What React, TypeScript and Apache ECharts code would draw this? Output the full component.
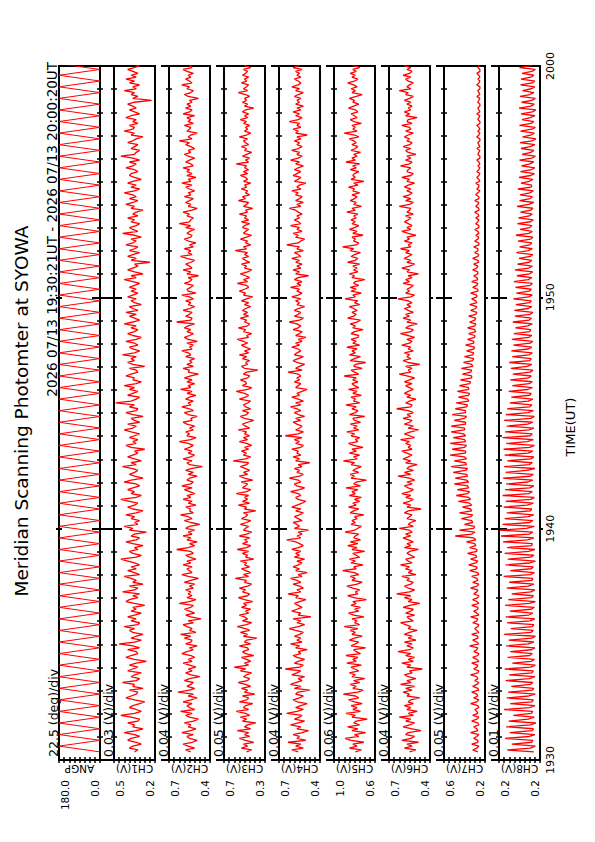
import React, { useEffect, useRef } from "react";
import * as echarts from "echarts";

// ---- chart texts ----
const TITLE = "Meridian Scanning Photomter at SYOWA";
const SUBTITLE = "2026 07/13 19:30:21UT - 2026 07/13 20:00:20UT";
const TIME_NAME = "TIME(UT)";
const CHANNEL_NAMES = ["ANGP", "CH1(V)", "CH2(V)", "CH3(V)", "CH4(V)", "CH5(V)", "CH6(V)", "CH7(V)", "CH8(V)"];
const DIV_LABELS = ["22.5 (deg)/div", "0.03 (V)/div", "0.04 (V)/div", "0.05 (V)/div", "0.04 (V)/div", "0.06 (V)/div", "0.04 (V)/div", "0.05 (V)/div", "0.01 (V)/div"];
const AXIS_MIN = [0, 0.24, 0.4, 0.3, 0.4, 0.6, 0.4, 0.2, 0.16];
const AXIS_MAX = [180, 0.48, 0.72, 0.7, 0.72, 1.08, 0.72, 0.6, 0.24];
const MAX_LABELS = ["180.0", "0.5", "0.7", "0.7", "0.7", "1.0", "0.7", "0.6", "0.2"];
const MIN_LABELS = ["0.0", "0.2", "0.4", "0.3", "0.4", "0.6", "0.4", "0.2", "0.2"];
const TIME_TICKS = [0, 10, 20, 30]; // minutes after 19:30
const TIME_LABELS = ["1930", "1940", "1950", "2000"];

// ---- sampling ----
const START_SEC = 21; // 19:30:21
const SAMPLE_SEC = 5; // channel sampling
const ANGP_STEP_SEC = 15; // half scan

// ---- data ----
const ANGP = [
  0, 180, 0, 180, 0, 180, 0, 180, 0, 180, 0, 180, 0, 180, 0, 180, 0, 180, 0, 180,
  0, 180, 0, 180, 0, 180, 0, 180, 0, 180, 0, 180, 0, 180, 0, 180, 0, 180, 0, 180,
  0, 180, 0, 180, 0, 180, 0, 180, 0, 180, 0, 180, 0, 180, 0, 180, 0, 180, 0, 180,
  0, 180, 0, 180, 0, 180, 0, 180, 0, 180, 0, 180, 0, 180, 0, 180, 0, 180, 0, 180,
  0, 180, 0, 180, 0, 180, 0, 180, 0, 180, 0, 180, 0, 180, 0, 180, 0, 180, 0, 180,
  0, 180, 0, 180, 0, 180, 0, 180, 0, 180, 0, 180, 0, 180, 0, 180, 0, 180, 0, 180, 0,
];

const CH1 = [
  0.36,0.34,0.39,0.37,0.32,0.35,0.40,0.38,0.33,0.36,0.42,0.35,
  0.31,0.37,0.36,0.40,0.34,0.33,0.38,0.44,0.36,0.32,0.35,0.39,
  0.37,0.33,0.30,0.36,0.41,0.38,0.35,0.34,0.39,0.31,0.37,0.36,
  0.43,0.35,0.33,0.38,0.36,0.32,0.40,0.37,0.34,0.39,0.35,0.29,
  0.36,0.41,0.38,0.34,0.35,0.40,0.33,0.37,0.45,0.36,0.32,0.38,
  0.35,0.31,0.37,0.39,0.36,0.42,0.34,0.33,0.38,0.35,0.40,0.36,
  0.32,0.38,0.35,0.37,0.30,0.36,0.41,0.39,0.34,0.37,0.33,0.43,
  0.36,0.34,0.39,0.31,0.37,0.35,0.38,0.42,0.33,0.36,0.40,0.35,
  0.38,0.33,0.36,0.40,0.44,0.35,0.32,0.37,0.39,0.34,0.36,0.31,
  0.37,0.41,0.35,0.33,0.38,0.36,0.29,0.39,0.37,0.42,0.34,0.36,
  0.33,0.38,0.36,0.41,0.35,0.31,0.37,0.40,0.36,0.34,0.39,0.44,
  0.35,0.32,0.38,0.36,0.40,0.37,0.33,0.35,0.42,0.38,0.31,0.36,
  0.39,0.36,0.34,0.37,0.43,0.35,0.38,0.32,0.36,0.40,0.37,0.34,
  0.36,0.30,0.38,0.41,0.35,0.37,0.34,0.39,0.36,0.33,0.38,0.42,
  0.37,0.35,0.40,0.33,0.36,0.38,0.31,0.37,0.41,0.35,0.34,0.39,
  0.36,0.47,0.38,0.35,0.33,0.40,0.37,0.34,0.39,0.36,0.42,0.35,
  0.32,0.37,0.36,0.41,0.38,0.34,0.35,0.39,0.30,0.37,0.40,0.36,
  0.38,0.35,0.43,0.36,0.33,0.37,0.39,0.34,0.36,0.41,0.35,0.32,
  0.37,0.40,0.36,0.34,0.38,0.35,0.42,0.37,0.33,0.36,0.39,0.35,
  0.41,0.34,0.37,0.39,0.32,0.36,0.38,0.35,0.40,0.37,0.34,0.38,
  0.35,0.39,0.36,0.33,0.37,0.42,0.35,0.38,0.31,0.36,0.40,0.37,
  0.34,0.36,0.27,0.38,0.35,0.40,0.37,0.33,0.39,0.36,0.34,0.41,
  0.37,0.35,0.38,0.32,0.36,0.43,0.34,0.37,0.39,0.35,0.33,0.38,
  0.36,0.40,0.34,0.37,0.35,0.31,0.38,0.36,0.41,0.37,0.34,0.39,
  0.35,0.37,0.42,0.36,0.33,0.38,0.35,0.40,0.37,0.32,0.36,0.39,
  0.38,0.34,0.36,0.41,0.37,0.35,0.39,0.33,0.37,0.44,0.36,0.35,
  0.33,0.38,0.36,0.34,0.40,0.37,0.35,0.31,0.38,0.36,0.42,0.37,
  0.36,0.39,0.34,0.37,0.35,0.41,0.38,0.33,0.36,0.39,0.35,0.37,
  0.40,0.36,0.26,0.37,0.34,0.38,0.36,0.42,0.35,0.37,0.33,0.39,
  0.36,0.41,0.35,0.38,0.34,0.37,0.40,0.36,0.33,0.38,0.35,0.39,
  0.37,
];

const CH2 = [
  0.55,0.59,0.52,0.57,0.61,0.54,0.50,0.56,0.58,0.53,0.62,0.55,
  0.51,0.57,0.55,0.60,0.53,0.49,0.56,0.59,0.54,0.63,0.52,0.56,
  0.58,0.54,0.61,0.55,0.50,0.57,0.53,0.65,0.56,0.52,0.58,0.55,
  0.53,0.60,0.56,0.48,0.55,0.59,0.54,0.57,0.51,0.56,0.61,0.54,
  0.57,0.52,0.55,0.62,0.58,0.53,0.56,0.50,0.59,0.55,0.54,0.60,
  0.55,0.63,0.51,0.56,0.54,0.58,0.61,0.53,0.57,0.47,0.55,0.59,
  0.52,0.56,0.60,0.55,0.53,0.64,0.56,0.51,0.58,0.54,0.57,0.55,
  0.59,0.53,0.56,0.52,0.60,0.55,0.49,0.57,0.62,0.54,0.56,0.58,
  0.54,0.61,0.55,0.58,0.51,0.56,0.59,0.53,0.55,0.66,0.57,0.52,
  0.56,0.50,0.58,0.55,0.61,0.54,0.57,0.52,0.59,0.56,0.48,0.55,
  0.60,0.54,0.57,0.63,0.53,0.56,0.55,0.59,0.51,0.57,0.54,0.61,
  0.55,0.58,0.52,0.56,0.60,0.54,0.62,0.55,0.53,0.58,0.56,0.50,
  0.57,0.53,0.59,0.55,0.46,0.56,0.58,0.54,0.61,0.55,0.52,0.57,
  0.54,0.60,0.56,0.53,0.57,0.64,0.55,0.51,0.58,0.56,0.59,0.53,
  0.56,0.52,0.58,0.61,0.54,0.55,0.50,0.57,0.60,0.53,0.56,0.62,
  0.55,0.57,0.53,0.59,0.56,0.51,0.58,0.54,0.63,0.55,0.57,0.52,
  0.58,0.54,0.60,0.55,0.49,0.57,0.56,0.61,0.53,0.58,0.54,0.56,
  0.52,0.59,0.55,0.57,0.62,0.54,0.56,0.53,0.58,0.50,0.57,0.60,
  0.56,0.53,0.58,0.55,0.60,0.57,0.52,0.66,0.55,0.54,0.59,0.56,
  0.54,0.61,0.56,0.52,0.57,0.55,0.59,0.53,0.56,0.62,0.51,0.57,
  0.58,0.55,0.53,0.60,0.56,0.54,0.57,0.49,0.58,0.55,0.61,0.54,
  0.56,0.59,0.55,0.52,0.58,0.63,0.54,0.57,0.55,0.60,0.53,0.56,
  0.51,0.57,0.60,0.55,0.54,0.58,0.56,0.52,0.59,0.55,0.64,0.56,
  0.55,0.53,0.58,0.56,0.61,0.54,0.50,0.57,0.55,0.59,0.56,0.53,
  0.60,0.55,0.57,0.52,0.56,0.59,0.54,0.62,0.55,0.57,0.51,0.58,
  0.54,0.58,0.56,0.61,0.53,0.55,0.59,0.56,0.52,0.57,0.60,0.55,
  0.57,0.52,0.55,0.59,0.56,0.64,0.54,0.57,0.55,0.50,0.58,0.56,
  0.55,0.60,0.53,0.57,0.55,0.58,0.52,0.61,0.56,0.54,0.59,0.55,
  0.58,0.54,0.56,0.49,0.57,0.60,0.55,0.53,0.58,0.56,0.62,0.54,
  0.56,0.59,0.55,0.57,0.53,0.58,0.61,0.54,0.56,0.52,0.57,0.55,
  0.57,
];

const CH3 = [
  0.48,0.43,0.53,0.47,0.51,0.41,0.49,0.55,0.45,0.50,0.46,0.57,
  0.44,0.50,0.47,0.39,0.52,0.48,0.54,0.45,0.49,0.58,0.46,0.51,
  0.49,0.42,0.55,0.48,0.46,0.52,0.40,0.50,0.47,0.53,0.44,0.49,
  0.56,0.47,0.45,0.51,0.48,0.43,0.54,0.49,0.60,0.46,0.50,0.44,
  0.48,0.53,0.41,0.49,0.52,0.46,0.47,0.55,0.44,0.50,0.48,0.38,
  0.51,0.47,0.54,0.45,0.49,0.57,0.48,0.43,0.52,0.47,0.50,0.55,
  0.46,0.49,0.44,0.53,0.48,0.51,0.42,0.50,0.56,0.47,0.45,0.52,
  0.49,0.55,0.47,0.43,0.50,0.48,0.59,0.46,0.51,0.44,0.49,0.53,
  0.45,0.50,0.48,0.54,0.41,0.49,0.47,0.52,0.46,0.57,0.48,0.44,
  0.52,0.47,0.50,0.45,0.55,0.48,0.43,0.51,0.49,0.46,0.54,0.48,
  0.44,0.53,0.49,0.47,0.51,0.39,0.50,0.48,0.56,0.45,0.52,0.47,
  0.50,0.46,0.58,0.48,0.44,0.52,0.49,0.47,0.53,0.42,0.50,0.55,
  0.47,0.51,0.45,0.49,0.54,0.48,0.46,0.61,0.49,0.44,0.51,0.48,
  0.53,0.46,0.50,0.43,0.48,0.55,0.47,0.51,0.45,0.50,0.48,0.56,
  0.45,0.49,0.52,0.47,0.41,0.50,0.54,0.48,0.46,0.52,0.44,0.49,
  0.51,0.47,0.44,0.55,0.49,0.46,0.50,0.58,0.47,0.43,0.52,0.48,
  0.49,0.54,0.47,0.45,0.51,0.48,0.37,0.50,0.53,0.47,0.49,0.45,
  0.52,0.48,0.55,0.46,0.50,0.44,0.49,0.53,0.47,0.51,0.57,0.46,
  0.48,0.43,0.51,0.49,0.56,0.47,0.45,0.50,0.48,0.54,0.46,0.51,
  0.47,0.52,0.49,0.44,0.50,0.46,0.53,0.48,0.42,0.51,0.49,0.55,
  0.50,0.46,0.48,0.57,0.47,0.51,0.45,0.49,0.54,0.47,0.43,0.50,
  0.48,0.53,0.45,0.49,0.52,0.46,0.50,0.47,0.59,0.48,0.51,0.44,
  0.49,0.47,0.54,0.48,0.43,0.51,0.49,0.46,0.52,0.50,0.45,0.53,
  0.46,0.50,0.48,0.55,0.47,0.49,0.42,0.51,0.48,0.46,0.56,0.49,
  0.52,0.45,0.49,0.47,0.53,0.48,0.50,0.44,0.51,0.47,0.49,0.54,
  0.47,0.51,0.46,0.50,0.48,0.58,0.46,0.49,0.45,0.52,0.48,0.43,
  0.50,0.48,0.53,0.46,0.49,0.51,0.47,0.55,0.48,0.44,0.50,0.47,
  0.49,0.45,0.51,0.48,0.54,0.47,0.50,0.46,0.52,0.49,0.41,0.50,
  0.47,0.52,0.48,0.50,0.45,0.49,0.56,0.47,0.51,0.48,0.46,0.53,
  0.48,0.50,0.46,0.52,0.49,0.47,0.51,0.44,0.50,0.48,0.53,0.47,
  0.49,
];

const CH4 = [
  0.57,0.62,0.53,0.59,0.55,0.65,0.51,0.58,0.56,0.61,0.54,0.49,
  0.58,0.55,0.63,0.57,0.52,0.60,0.56,0.54,0.66,0.58,0.53,0.59,
  0.55,0.50,0.58,0.61,0.56,0.53,0.59,0.57,0.48,0.60,0.55,0.63,
  0.59,0.54,0.57,0.52,0.62,0.58,0.55,0.67,0.56,0.53,0.60,0.57,
  0.52,0.58,0.61,0.55,0.57,0.50,0.59,0.56,0.63,0.54,0.58,0.55,
  0.60,0.56,0.53,0.59,0.64,0.57,0.52,0.58,0.55,0.61,0.47,0.57,
  0.55,0.62,0.58,0.54,0.57,0.60,0.56,0.51,0.59,0.57,0.65,0.55,
  0.58,0.53,0.56,0.61,0.55,0.58,0.63,0.54,0.57,0.50,0.59,0.56,
  0.61,0.57,0.54,0.58,0.52,0.60,0.56,0.59,0.55,0.62,0.57,0.53,
  0.56,0.59,0.66,0.55,0.58,0.54,0.57,0.49,0.60,0.56,0.58,0.61,
  0.54,0.57,0.60,0.56,0.53,0.59,0.55,0.62,0.58,0.54,0.51,0.57,
  0.59,0.55,0.57,0.63,0.56,0.52,0.58,0.60,0.55,0.57,0.64,0.56,
  0.53,0.58,0.56,0.60,0.54,0.57,0.48,0.59,0.56,0.61,0.55,0.58,
  0.57,0.62,0.55,0.53,0.59,0.56,0.60,0.54,0.67,0.57,0.53,0.59,
  0.56,0.54,0.58,0.61,0.55,0.59,0.52,0.57,0.60,0.55,0.58,0.63,
  0.55,0.59,0.53,0.57,0.62,0.56,0.58,0.54,0.50,0.59,0.57,0.55,
  0.60,0.56,0.58,0.55,0.57,0.65,0.54,0.59,0.56,0.52,0.58,0.61,
  0.57,0.53,0.60,0.58,0.55,0.57,0.62,0.56,0.59,0.54,0.57,0.51,
  0.59,0.56,0.54,0.61,0.57,0.55,0.58,0.64,0.56,0.53,0.60,0.57,
  0.55,0.60,0.57,0.52,0.58,0.56,0.59,0.55,0.62,0.57,0.54,0.58,
  0.56,0.63,0.55,0.58,0.54,0.60,0.57,0.49,0.59,0.56,0.61,0.55,
  0.58,0.54,0.59,0.56,0.62,0.55,0.57,0.60,0.53,0.58,0.56,0.66,
  0.57,0.55,0.52,0.59,0.57,0.61,0.54,0.58,0.56,0.63,0.55,0.57,
  0.60,0.56,0.58,0.54,0.57,0.59,0.64,0.55,0.58,0.53,0.59,0.56,
  0.54,0.59,0.57,0.62,0.55,0.58,0.56,0.51,0.60,0.57,0.55,0.61,
  0.58,0.55,0.60,0.57,0.53,0.59,0.56,0.63,0.57,0.54,0.58,0.56,
  0.62,0.57,0.54,0.58,0.56,0.60,0.55,0.58,0.50,0.59,0.57,0.61,
  0.55,0.58,0.56,0.64,0.57,0.54,0.59,0.56,0.61,0.55,0.58,0.53,
  0.59,0.56,0.58,0.55,0.60,0.57,0.53,0.59,0.56,0.62,0.57,0.55,
  0.57,0.60,0.55,0.58,0.56,0.59,0.54,0.61,0.57,0.55,0.58,0.56,
  0.58,
];

const CH5 = [
  0.83,0.76,0.90,0.81,0.86,0.73,0.88,0.95,0.79,0.84,0.71,0.87,
  0.80,0.92,0.78,0.85,0.82,0.69,0.87,0.83,0.94,0.77,0.86,0.81,
  0.88,0.75,0.84,0.91,0.79,0.83,0.97,0.80,0.74,0.86,0.82,0.89,
  0.78,0.85,0.72,0.87,0.83,0.90,0.79,0.84,0.88,0.76,0.93,0.82,
  0.86,0.80,0.94,0.77,0.82,0.85,0.71,0.88,0.83,0.79,0.90,0.84,
  0.75,0.87,0.83,0.89,0.80,0.96,0.78,0.84,0.81,0.87,0.73,0.85,
  0.91,0.79,0.84,0.77,0.88,0.82,0.86,0.70,0.85,0.92,0.80,0.83,
  0.78,0.86,0.93,0.81,0.75,0.87,0.83,0.89,0.79,0.84,0.98,0.82,
  0.85,0.74,0.88,0.83,0.90,0.78,0.82,0.86,0.72,0.87,0.81,0.92,
  0.80,0.89,0.77,0.85,0.83,0.79,0.95,0.84,0.80,0.76,0.88,0.83,
  0.87,0.81,0.84,0.73,0.89,0.85,0.79,0.91,0.82,0.86,0.78,0.84,
  0.76,0.90,0.83,0.87,0.80,0.94,0.77,0.85,0.82,0.70,0.88,0.84,
  0.89,0.79,0.86,0.82,0.76,0.88,0.84,0.97,0.81,0.85,0.78,0.90,
  0.82,0.87,0.74,0.85,0.91,0.80,0.83,0.78,0.88,0.84,0.93,0.79,
  0.85,0.81,0.89,0.77,0.84,0.86,0.72,0.90,0.83,0.80,0.87,0.82,
  0.94,0.78,0.85,0.83,0.88,0.76,0.86,0.81,0.91,0.79,0.84,0.87,
  0.80,0.86,0.82,0.96,0.79,0.84,0.88,0.75,0.85,0.83,0.71,0.89,
  0.84,0.77,0.90,0.83,0.87,0.81,0.93,0.78,0.86,0.82,0.88,0.80,
  0.79,0.88,0.84,0.74,0.86,0.83,0.89,0.81,0.77,0.92,0.85,0.82,
  0.87,0.81,0.85,0.90,0.78,0.84,0.80,0.95,0.83,0.86,0.76,0.88,
  0.82,0.89,0.79,0.85,0.83,0.72,0.87,0.84,0.90,0.80,0.85,0.81,
  0.86,0.78,0.92,0.83,0.80,0.88,0.84,0.77,0.89,0.85,0.98,0.82,
  0.79,0.85,0.83,0.87,0.74,0.86,0.81,0.90,0.84,0.79,0.87,0.83,
  0.88,0.82,0.85,0.80,0.93,0.83,0.87,0.76,0.85,0.82,0.89,0.84,
  0.81,0.87,0.78,0.86,0.84,0.91,0.80,0.85,0.73,0.88,0.83,0.86,
  0.84,0.79,0.89,0.82,0.86,0.78,0.94,0.83,0.87,0.81,0.85,0.77,
  0.88,0.83,0.80,0.87,0.82,0.85,0.90,0.79,0.84,0.96,0.81,0.86,
  0.83,0.87,0.76,0.85,0.89,0.81,0.84,0.88,0.80,0.83,0.91,0.85,
  0.79,0.86,0.84,0.90,0.82,0.75,0.87,0.83,0.88,0.81,0.85,0.92,
  0.84,0.80,0.87,0.83,0.89,0.82,0.86,0.78,0.85,0.88,0.81,0.84,
  0.83,
];

const CH6 = [
  0.56,0.51,0.60,0.54,0.58,0.49,0.62,0.55,0.52,0.59,0.57,0.47,
  0.54,0.61,0.56,0.52,0.59,0.55,0.64,0.53,0.57,0.50,0.58,0.55,
  0.60,0.53,0.57,0.55,0.48,0.58,0.56,0.61,0.54,0.59,0.52,0.63,
  0.55,0.58,0.51,0.57,0.60,0.54,0.56,0.46,0.58,0.55,0.62,0.53,
  0.57,0.52,0.59,0.55,0.65,0.56,0.53,0.58,0.54,0.60,0.51,0.57,
  0.54,0.60,0.56,0.50,0.57,0.55,0.59,0.63,0.53,0.56,0.58,0.52,
  0.59,0.55,0.53,0.61,0.56,0.48,0.57,0.54,0.60,0.55,0.66,0.56,
  0.52,0.57,0.60,0.55,0.53,0.58,0.56,0.62,0.51,0.57,0.54,0.59,
  0.56,0.63,0.54,0.57,0.59,0.52,0.55,0.58,0.56,0.49,0.60,0.55,
  0.58,0.53,0.57,0.61,0.55,0.59,0.54,0.56,0.64,0.53,0.57,0.55,
  0.51,0.58,0.56,0.54,0.60,0.57,0.47,0.58,0.55,0.61,0.56,0.53,
  0.59,0.55,0.62,0.56,0.53,0.57,0.60,0.54,0.58,0.52,0.56,0.65,
  0.55,0.60,0.53,0.58,0.56,0.50,0.59,0.55,0.61,0.57,0.54,0.58,
  0.62,0.54,0.57,0.55,0.59,0.56,0.63,0.52,0.56,0.60,0.55,0.49,
  0.57,0.53,0.60,0.56,0.54,0.61,0.55,0.58,0.53,0.57,0.66,0.55,
  0.54,0.59,0.56,0.51,0.58,0.55,0.60,0.57,0.53,0.56,0.59,0.54,
  0.60,0.56,0.52,0.58,0.64,0.55,0.57,0.54,0.59,0.48,0.57,0.61,
  0.55,0.58,0.56,0.60,0.53,0.57,0.55,0.62,0.56,0.54,0.58,0.52,
  0.57,0.63,0.55,0.53,0.59,0.56,0.50,0.58,0.55,0.61,0.56,0.59,
  0.53,0.57,0.60,0.55,0.58,0.54,0.57,0.65,0.55,0.52,0.59,0.56,
  0.58,0.55,0.53,0.61,0.56,0.59,0.54,0.57,0.49,0.58,0.56,0.62,
  0.56,0.52,0.58,0.55,0.60,0.57,0.54,0.59,0.56,0.63,0.55,0.57,
  0.54,0.60,0.56,0.58,0.51,0.57,0.62,0.55,0.58,0.54,0.57,0.60,
  0.57,0.55,0.59,0.53,0.58,0.56,0.55,0.64,0.56,0.53,0.59,0.55,
  0.61,0.56,0.54,0.58,0.55,0.60,0.57,0.52,0.58,0.56,0.62,0.55,
  0.53,0.58,0.57,0.55,0.63,0.56,0.54,0.59,0.55,0.58,0.51,0.57,
  0.59,0.55,0.61,0.56,0.54,0.58,0.56,0.60,0.57,0.53,0.59,0.55,
  0.56,0.62,0.54,0.58,0.57,0.50,0.59,0.56,0.60,0.55,0.57,0.54,
  0.58,0.55,0.60,0.56,0.53,0.59,0.57,0.64,0.55,0.58,0.56,0.53,
  0.57,0.59,0.55,0.61,0.56,0.54,0.58,0.55,0.60,0.57,0.53,0.58,
  0.56,
];

const CH7 = [
  0.27,0.32,0.28,0.26,0.33,0.27,0.27,0.31,0.28,0.26,0.34,0.27,
  0.28,0.31,0.26,0.27,0.33,0.28,0.26,0.32,0.27,0.28,0.30,0.26,
  0.27,0.34,0.28,0.26,0.31,0.27,0.28,0.33,0.26,0.27,0.32,0.28,
  0.26,0.30,0.27,0.28,0.34,0.27,0.26,0.31,0.28,0.27,0.33,0.26,
  0.28,0.32,0.27,0.26,0.31,0.28,0.27,0.35,0.26,0.28,0.32,0.27,
  0.27,0.33,0.26,0.28,0.30,0.27,0.26,0.32,0.28,0.27,0.34,0.26,
  0.28,0.31,0.27,0.27,0.33,0.26,0.28,0.32,0.27,0.26,0.31,0.28,
  0.27,0.34,0.28,0.26,0.32,0.27,0.28,0.33,0.26,0.27,0.35,0.28,
  0.28,0.36,0.29,0.27,0.34,0.28,0.29,0.37,0.28,0.28,0.35,0.29,
  0.30,0.38,0.29,0.31,0.49,0.33,0.30,0.45,0.31,0.30,0.40,0.32,
  0.33,0.43,0.34,0.32,0.45,0.33,0.34,0.42,0.33,0.35,0.46,0.34,
  0.36,0.48,0.37,0.35,0.47,0.36,0.37,0.50,0.36,0.38,0.49,0.37,
  0.38,0.51,0.39,0.37,0.53,0.38,0.39,0.50,0.38,0.40,0.54,0.39,
  0.39,0.52,0.40,0.38,0.54,0.39,0.40,0.51,0.39,0.41,0.53,0.40,
  0.40,0.53,0.39,0.39,0.50,0.40,0.38,0.52,0.39,0.39,0.49,0.38,
  0.37,0.48,0.36,0.37,0.46,0.36,0.35,0.47,0.36,0.36,0.45,0.35,
  0.34,0.44,0.33,0.33,0.42,0.34,0.33,0.43,0.32,0.33,0.41,0.32,
  0.31,0.40,0.32,0.31,0.38,0.31,0.30,0.39,0.31,0.31,0.37,0.30,
  0.30,0.36,0.29,0.30,0.37,0.30,0.29,0.35,0.30,0.29,0.36,0.29,
  0.28,0.34,0.29,0.28,0.35,0.28,0.29,0.33,0.28,0.28,0.34,0.27,
  0.27,0.32,0.28,0.27,0.33,0.27,0.28,0.31,0.27,0.27,0.32,0.28,
  0.27,0.31,0.26,0.27,0.32,0.27,0.26,0.30,0.27,0.27,0.31,0.26,
  0.26,0.30,0.27,0.26,0.29,0.26,0.27,0.30,0.26,0.26,0.29,0.27,
  0.26,0.29,0.26,0.27,0.30,0.26,0.26,0.29,0.27,0.26,0.30,0.26,
  0.26,0.29,0.27,0.25,0.28,0.26,0.26,0.29,0.25,0.26,0.28,0.26,
  0.25,0.28,0.26,0.25,0.27,0.25,0.26,0.28,0.25,0.25,0.27,0.26,
  0.25,0.28,0.25,0.26,0.27,0.25,0.25,0.28,0.26,0.25,0.27,0.25,
  0.26,0.28,0.25,0.25,0.27,0.26,0.25,0.28,0.25,0.26,0.27,0.25,
  0.25,0.27,0.26,0.25,0.28,0.25,0.26,0.27,0.25,0.25,0.28,0.26,
  0.25,0.27,0.25,0.26,0.28,0.25,0.25,0.27,0.26,0.25,0.27,0.25,
  0.26,
];

const CH8 = [
  0.172,0.224,0.179,0.169,0.215,0.176,0.174,0.228,0.181,0.170,0.219,0.175,
  0.173,0.226,0.178,0.168,0.221,0.183,0.171,0.212,0.177,0.174,0.230,0.180,
  0.170,0.218,0.176,0.173,0.225,0.182,0.169,0.222,0.175,0.172,0.216,0.179,
  0.174,0.227,0.181,0.170,0.220,0.176,0.173,0.229,0.178,0.169,0.214,0.177,
  0.171,0.223,0.180,0.175,0.218,0.177,0.170,0.226,0.183,0.172,0.221,0.176,
  0.169,0.230,0.178,0.173,0.217,0.175,0.172,0.224,0.180,0.170,0.227,0.182,
  0.174,0.219,0.177,0.171,0.228,0.181,0.169,0.222,0.176,0.173,0.215,0.178,
  0.170,0.225,0.183,0.172,0.220,0.176,0.174,0.231,0.179,0.171,0.218,0.177,
  0.173,0.227,0.180,0.169,0.223,0.178,0.172,0.229,0.182,0.170,0.224,0.176,
  0.175,0.232,0.184,0.172,0.236,0.181,0.174,0.238,0.186,0.171,0.233,0.180,
  0.174,0.229,0.183,0.172,0.225,0.179,0.176,0.231,0.185,0.173,0.227,0.178,
  0.171,0.233,0.182,0.175,0.228,0.180,0.172,0.226,0.184,0.174,0.232,0.179,
  0.173,0.227,0.186,0.170,0.230,0.181,0.175,0.224,0.178,0.172,0.229,0.183,
  0.174,0.231,0.180,0.171,0.226,0.185,0.173,0.233,0.179,0.175,0.228,0.182,
  0.172,0.225,0.184,0.174,0.230,0.178,0.171,0.227,0.183,0.173,0.224,0.180,
  0.176,0.219,0.183,0.174,0.216,0.180,0.177,0.221,0.184,0.175,0.214,0.181,
  0.175,0.218,0.182,0.177,0.213,0.179,0.174,0.217,0.185,0.176,0.220,0.180,
  0.177,0.214,0.181,0.175,0.216,0.183,0.176,0.212,0.179,0.174,0.215,0.182,
  0.176,0.211,0.180,0.178,0.208,0.184,0.175,0.213,0.181,0.177,0.209,0.179,
  0.174,0.210,0.183,0.176,0.207,0.180,0.177,0.212,0.182,0.175,0.206,0.181,
  0.177,0.208,0.179,0.175,0.211,0.183,0.176,0.205,0.180,0.174,0.209,0.182,
  0.175,0.204,0.181,0.176,0.201,0.179,0.174,0.206,0.183,0.175,0.200,0.180,
  0.176,0.203,0.178,0.174,0.207,0.182,0.175,0.199,0.180,0.176,0.204,0.179,
  0.173,0.202,0.181,0.175,0.198,0.178,0.174,0.205,0.182,0.172,0.200,0.179,
  0.175,0.199,0.180,0.173,0.203,0.177,0.176,0.197,0.181,0.174,0.201,0.178,
  0.171,0.198,0.177,0.170,0.196,0.180,0.172,0.200,0.176,0.169,0.195,0.178,
  0.172,0.197,0.179,0.170,0.199,0.175,0.168,0.194,0.178,0.171,0.198,0.176,
  0.169,0.200,0.177,0.172,0.195,0.179,0.170,0.197,0.175,0.168,0.201,0.178,
  0.171,0.196,0.176,0.169,0.199,0.180,0.172,0.194,0.177,0.170,0.198,0.175,
  0.170,0.197,0.178,0.172,0.195,0.176,0.169,0.200,0.179,0.171,0.196,0.177,
  0.172,
];

const CHANNEL_DATA = [ANGP, CH1, CH2, CH3, CH4, CH5, CH6, CH7, CH8];
const CHANNEL_STEP_SEC = [ANGP_STEP_SEC, SAMPLE_SEC, SAMPLE_SEC, SAMPLE_SEC, SAMPLE_SEC, SAMPLE_SEC, SAMPLE_SEC, SAMPLE_SEC, SAMPLE_SEC];

// ---- layout ----
const W = 595;
const H = 842;
const GRID_LEFT = 59;
const GRID_STEP = 55;
const GRID_W = 41;
const GRID_TOP = 66;
const GRID_H = 694;
const FONT = "DejaVu Sans";
const RED = "#ff0000";

function near(v: number, m: number) {
  return Math.abs(v - m) < 1e-6 * Math.max(1, Math.abs(m));
}

function buildOption() {
  const grid: any[] = [];
  const xAxis: any[] = [];
  const yAxis: any[] = [];
  const series: any[] = [];
  const graphic: any[] = [];
  const n = CHANNEL_NAMES.length;

  for (let i = 0; i < n; i++) {
    const left = GRID_LEFT + GRID_STEP * i;
    grid.push({
      left,
      top: GRID_TOP,
      width: GRID_W,
      height: GRID_H,
      show: true,
      borderColor: "#000",
      borderWidth: 2,
      backgroundColor: "transparent",
    });
    const min = AXIS_MIN[i];
    const max = AXIS_MAX[i];
    const hidden = {
      axisLine: { show: false },
      axisTick: { show: false },
      splitLine: { show: false },
    };
    xAxis.push({
      gridIndex: i,
      type: "value",
      position: "bottom",
      min,
      max,
      inverse: true,
      ...hidden,
      axisLabel: {
        show: true,
        rotate: 90,
        margin: 20,
        verticalAlign: "top",
        fontSize: 10.5,
        fontFamily: FONT,
        color: "#000",
        showMinLabel: true,
        showMaxLabel: true,
        formatter: (v: number) => (near(v, max) ? MAX_LABELS[i] : ""),
      },
      name: CHANNEL_NAMES[i],
      nameLocation: "middle",
      nameGap: 3,
      nameRotate: 180,
      nameMoveOverlap: false,
      nameTextStyle: { fontSize: 10.5, fontFamily: FONT, color: "#000" },
    });
    xAxis.push({
      gridIndex: i,
      type: "value",
      position: "bottom",
      min,
      max,
      inverse: true,
      ...hidden,
      axisLabel: {
        show: true,
        rotate: 90,
        margin: 20,
        verticalAlign: "bottom",
        fontSize: 10.5,
        fontFamily: FONT,
        color: "#000",
        showMinLabel: true,
        showMaxLabel: true,
        formatter: (v: number) => (near(v, min) ? MIN_LABELS[i] : ""),
      },
    });
    for (const pos of ["bottom", "top"]) {
      xAxis.push({
        gridIndex: i,
        type: "value",
        position: pos,
        min: 0,
        max: 8,
        interval: 1,
        axisLine: { show: false },
        axisTick: { show: true, inside: true, length: 3, lineStyle: { color: "#000", width: 1.5 } },
        axisLabel: { show: false },
        splitLine: { show: false },
      });
    }
    for (const pos of ["left", "right"]) {
      const showLabels = i === n - 1 && pos === "right";
      yAxis.push({
        gridIndex: i,
        type: "value",
        position: pos,
        min: 0,
        max: 30,
        interval: 10,
        axisLine: { show: false },
        axisTick: { show: true, inside: true, length: 8, lineStyle: { color: "#000", width: 2 } },
        minorTick: { show: true, splitNumber: 10, length: 3, lineStyle: { color: "#000", width: 1.5 } },
        splitLine: { show: false },
        axisLabel: showLabels
          ? {
              show: true,
              rotate: 90,
              margin: 5,
              fontSize: 11,
              fontFamily: FONT,
              color: "#000",
              showMinLabel: true,
              showMaxLabel: true,
              formatter: (v: number) => {
                const k = TIME_TICKS.findIndex((t) => near(v, t));
                return k >= 0 ? TIME_LABELS[k] : "";
              },
            }
          : { show: false },
      });
    }
    for (const pos of ["left", "right"]) {
      yAxis.push({
        gridIndex: i,
        type: "value",
        position: pos,
        min: 0,
        max: 30,
        interval: 10,
        axisLine: { show: false },
        axisTick: { show: true, inside: false, length: 3, customValues: [10, 20], lineStyle: { color: "#000", width: 2 } },
        splitLine: { show: false },
        axisLabel: { show: false },
      });
    }

    const vals = CHANNEL_DATA[i];
    const step = CHANNEL_STEP_SEC[i];
    series.push({
      type: "line",
      xAxisIndex: 4 * i,
      yAxisIndex: 4 * i,
      data: vals.map((v, k) => [v, (START_SEC + k * step) / 60]),
      showSymbol: false,
      symbol: "none",
      clip: true,
      silent: true,
      lineStyle: { color: RED, width: i === 0 ? 1 : 1.3 },
    });

    graphic.push({
      type: "text",
      x: left - 6,
      y: 757,
      rotation: Math.PI / 2,
      style: {
        text: DIV_LABELS[i],
        fontSize: 12.5,
        fontFamily: FONT,
        fill: "#000",
        align: "left",
        verticalAlign: "middle",
      },
    });
  }

  graphic.push(
    {
      type: "text",
      x: 21,
      y: 411,
      rotation: Math.PI / 2,
      style: { text: TITLE, fontSize: 18.5, fontFamily: FONT, fill: "#000", align: "center", verticalAlign: "middle" },
    },
    {
      type: "text",
      x: 52,
      y: 62,
      rotation: Math.PI / 2,
      style: { text: SUBTITLE, fontSize: 13.5, fontFamily: FONT, fill: "#000", align: "right", verticalAlign: "middle" },
    },
    {
      type: "text",
      x: 570,
      y: 427,
      rotation: Math.PI / 2,
      style: { text: TIME_NAME, fontSize: 13, fontFamily: FONT, fill: "#000", align: "center", verticalAlign: "middle" },
    }
  );

  return {
    animation: false,
    backgroundColor: "#fff",
    grid,
    xAxis,
    yAxis,
    series,
    graphic,
  };
}

export default function App() {
  const ref = useRef<HTMLDivElement>(null);
  useEffect(() => {
    if (!ref.current) return;
    const chart = echarts.init(ref.current, undefined, { renderer: "svg", width: W, height: H });
    chart.setOption(buildOption() as any);
    return () => chart.dispose();
  }, []);
  return (
    <div
      ref={ref}
      style={{ position: "fixed", left: 0, top: 0, width: W, height: H, background: "#fff" }}
    />
  );
}
